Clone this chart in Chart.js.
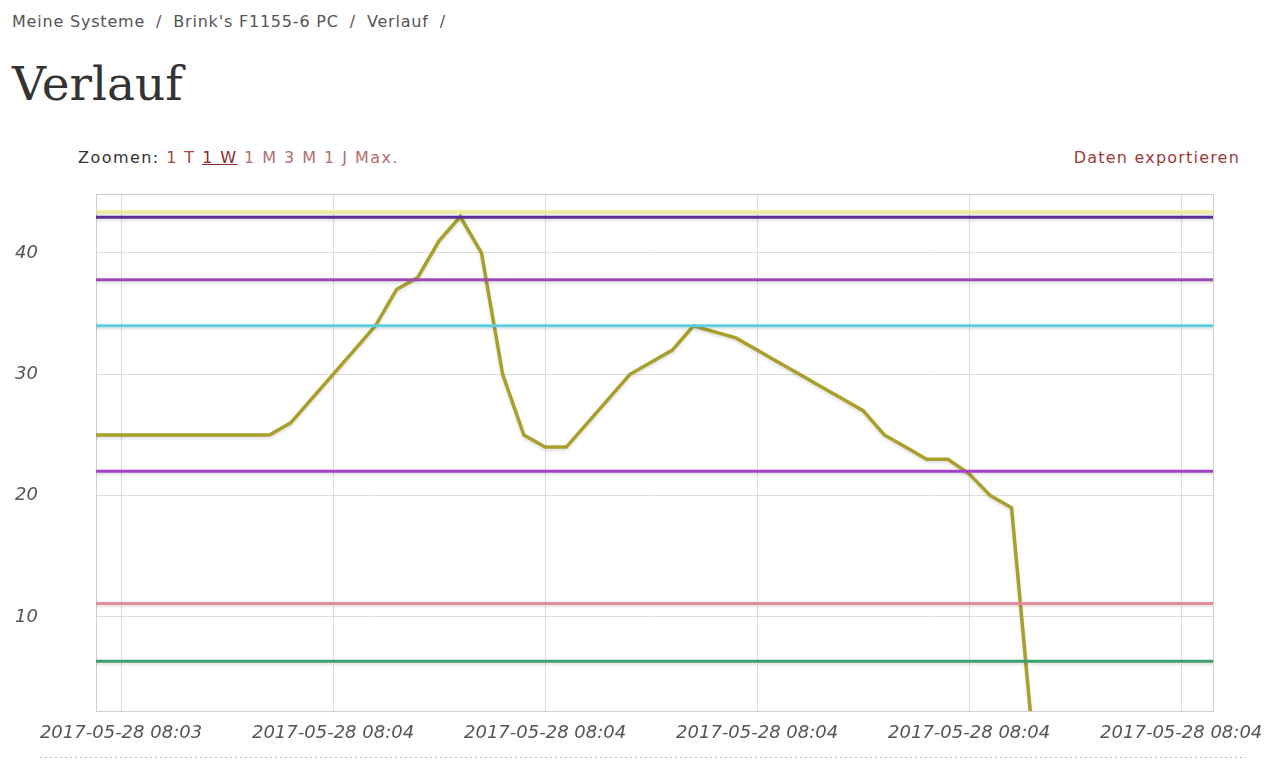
<!DOCTYPE html>
<html lang="de">
<head>
<meta charset="utf-8">
<title>Verlauf</title>
<script src="https://cdn.jsdelivr.net/npm/chart.js@4/dist/chart.umd.min.js"></script>
<style>
  body { margin: 0; background: #fff; width: 1280px; height: 762px; overflow: hidden; position: relative; }
  .crumbs { position: absolute; left: 12px; top: 12px; font: 16px "DejaVu Sans", sans-serif; letter-spacing: 0.8px; color: #555; }
  .crumbs span { margin: 0 11px; }
  .crumbs span:last-child { margin-right: 0; }
  h1 { position: absolute; left: 12px; top: 56px; margin: 0; font: 47px "DejaVu Serif", serif; color: #333; font-weight: normal; }
  .zoom { position: absolute; left: 78px; top: 148px; font: 16px "DejaVu Sans", sans-serif; letter-spacing: 1.45px; color: #333; }
  .zoom a { color: #b46e6e; text-decoration: none; }
  .zoom a.on { color: #8b2a2a; text-decoration: underline; }
  .zoom a.day { color: #a84646; }
  .export { position: absolute; right: 40px; top: 148px; font: 16px "DejaVu Sans", sans-serif; letter-spacing: 1.2px; color: #9b3a3a; }
  .chart-wrap { position: absolute; left: 0; top: 183px; width: 1280px; height: 579px; }
  .dots { position: absolute; left: 40px; top: 757px; width: 1206px; height: 1px;
    background-image: linear-gradient(to right, #bbb 40%, transparent 0); background-size: 5px 1px; }
</style>
</head>
<body>
<div class="crumbs">Meine Systeme<span>/</span>Brink's F1155-6 PC<span>/</span>Verlauf<span>/</span></div>
<h1>Verlauf</h1>
<div class="zoom">Zoomen: <a class="day">1 T</a> <a class="on">1 W</a> <a>1 M</a> <a>3 M</a> <a>1 J</a> <a>Max.</a></div>
<div class="export">Daten exportieren</div>
<div class="chart-wrap"><canvas id="myChart"></canvas></div>
<div class="dots"></div>

<script>
// x in samples, 0 = first tick, 10 samples per tick
const xLabels = [
  "2017-05-28 08:03",
  "2017-05-28 08:04",
  "2017-05-28 08:04",
  "2017-05-28 08:04",
  "2017-05-28 08:04",
  "2017-05-28 08:04",
];
const xTickStep = 10;
const xMin = -1.18;
const xMax = 51.5;
const yMin = 2.25;
const yMax = 44.86;

const firstSample = -2;
const curveValues = [
  25, 25, 25, 25, 25, 25, 25, 25, 25, 25,
  26, 28, 30, 32, 34, 37, 38, 41, 43, 40,
  30, 25, 24, 24, 26, 28, 30, 31, 32, 34,
  33.5, 33, 32, 31, 30, 29, 28, 27, 25, 24,
  23, 23, 21.8, 20, 19, 0,
];
const curveColor = "#a99f2a";

// flat limit lines
const levelValues = [43.4, 42.95, 37.8, 34.0, 22.0, 11.1, 6.35];
const levelColors = ["#eeee90", "#5b2f96", "#9c4bb0", "#5ccfe0", "#a342c8", "#e28c9c", "#3f9f6f"];

const levelSets = levelValues.map((v, i) => ({
  data: [
    { x: firstSample, y: v },
    { x: xMax + 2, y: v },
  ],
  borderColor: levelColors[i],
  borderWidth: 3,
  pointRadius: 0,
  fill: false,
}));

const curveSet = {
  data: curveValues.map((v, i) => ({ x: firstSample + i, y: v })),
  borderColor: curveColor,
  borderWidth: 3.5,
  pointRadius: 0,
  fill: false,
  tension: 0,
};

// faint drop shadow under every line, like the original
const shadowPlugin = {
  id: "shadow",
  beforeDatasetDraw(chart) {
    const ctx = chart.ctx;
    ctx.save();
    ctx.shadowColor = "rgba(0,0,0,0.13)";
    ctx.shadowBlur = 3;
    ctx.shadowOffsetY = 2;
  },
  afterDatasetDraw(chart) {
    chart.ctx.restore();
  },
};

const frame = {
  id: "frame",
  beforeDatasetsDraw(chart) {
    const { ctx, chartArea: a } = chart;
    ctx.save();
    ctx.strokeStyle = "#cfcfcf";
    ctx.lineWidth = 1;
    ctx.strokeRect(Math.round(a.left) + 0.5, Math.round(a.top) + 0.5, a.right - a.left, a.bottom - a.top);
    ctx.restore();
  },
};

const tickFont = { family: "'DejaVu Sans', sans-serif", style: "italic", size: 18 };

new Chart(document.getElementById("myChart"), {
  type: "line",
  data: { datasets: [...levelSets, curveSet] },
  plugins: [shadowPlugin, frame],
  options: {
    responsive: true,
    maintainAspectRatio: false,
    animation: false,
    layout: { padding: { top: 11, right: 67, left: 15, bottom: 0 } },
    plugins: { legend: { display: false }, tooltip: { enabled: false } },
    scales: {
      x: {
        type: "linear",
        min: xMin,
        max: xMax,
        afterFit: (s) => { s.height = 51; },
        border: { display: false },
        grid: { color: "#dcdcdc", drawTicks: false },
        ticks: {
          stepSize: xTickStep,
          includeBounds: false,
          maxRotation: 0,
          autoSkip: false,
          padding: 12,
          color: "#555",
          font: tickFont,
          callback: (v) => xLabels[Math.round(v / xTickStep)] ?? "",
        },
      },
      y: {
        min: yMin,
        max: yMax,
        afterFit: (s) => { s.width = 81; },
        border: { display: false },
        grid: { color: "#dcdcdc", drawTicks: false },
        ticks: {
          stepSize: 10,
          includeBounds: false,
          padding: 0,
          crossAlign: "far",
          color: "#555",
          font: tickFont,
        },
      },
    },
  },
});
</script>
</body>
</html>
